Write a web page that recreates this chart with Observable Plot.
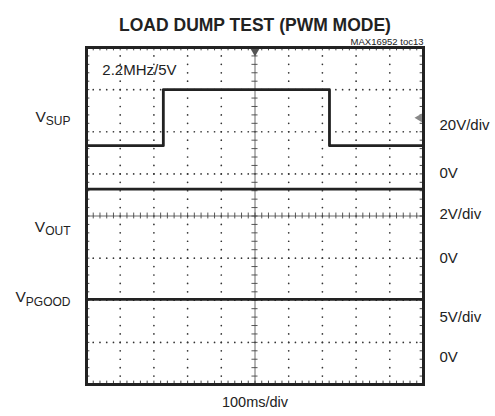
<!DOCTYPE html>
<html><head><meta charset="utf-8">
<script src="https://cdn.jsdelivr.net/npm/d3@7"></script>
<script src="https://cdn.jsdelivr.net/npm/@observablehq/plot@0.6"></script>
<style>
body{margin:0;background:#fff;}
svg{font-family:"Liberation Sans",Arial,sans-serif;}
</style></head>
<body><div id="chart"></div>
<script>
// time in ms (100 ms/div), vertical position in screen divisions (8 divs)
const vsupT = [0, 228, 228, 721, 721, 1000];
const vsupDiv = [5.67, 5.67, 7.0, 7.0, 5.67, 5.67];
const voutT = [0, 1000];
const voutDiv = [4.64, 4.64];
const vpgoodT = [0, 1000];
const vpgoodDiv = [2.02, 2.02];
const chanNames = ["SUP", "OUT", "PGOOD"];
const chanLabelDiv = [6.36, 3.74, 2.07];
const rightLabels = ["20V/div", "0V", "2V/div", "0V", "5V/div", "0V"];
const rightLabelDiv = [6.16, 5.02, 4.05, 3.0, 1.6, 0.65];
const title = "LOAD DUMP TEST (PWM MODE)";
const tocLabel = "MAX16952 toc13";
const modeLabel = "2.2MHz/5V";
const timeLabel = "100ms/div";
const triggerTime = 500;
const triggerLevelDiv = 6.33;

const xMinor = d3.range(0, 1000.001, 20);
const yMinor = d3.range(0, 8.0001, 0.2).map(v => +v.toFixed(2));
const xMajor = [100, 200, 300, 400, 600, 700, 800, 900];
const yMajor = [1, 2, 3, 5, 6, 7];
const gridDots = [];
for (const x of xMajor) for (const y of yMinor) gridDots.push({x, y});
for (const y of yMajor) for (const x of xMinor) gridDots.push({x, y});

const traces = [
  ...vsupT.map((t, i) => ({ch: "SUP", t, v: vsupDiv[i]})),
  ...voutT.map((t, i) => ({ch: "OUT", t, v: voutDiv[i]})),
  ...vpgoodT.map((t, i) => ({ch: "PGOOD", t, v: vpgoodDiv[i]}))
];
const chanRows = chanNames.map((c, i) => ({c, y: chanLabelDiv[i]}));
const rightRows = rightLabels.map((t, i) => ({t, y: rightLabelDiv[i]}));

const ink = "#222";
const plot = Plot.plot({
  width: 495, height: 416,
  marginLeft: 86, marginRight: 72, marginTop: 47, marginBottom: 32,
  x: {domain: [0, 1000], axis: null},
  y: {domain: [0, 8], axis: null},
  marks: [
    Plot.dot(gridDots, {x: "x", y: "y", r: 0.85, fill: "#333", stroke: null}),
    Plot.ruleX([500], {stroke: "#444", strokeWidth: 0.8}),
    Plot.ruleY([4], {stroke: "#444", strokeWidth: 0.8}),
    Plot.ruleX(xMinor, {x: d => d, y1: 3.93, y2: 4.07, stroke: "#444", strokeWidth: 0.9}),
    Plot.ruleY(yMinor, {y: d => d, x1: 491, x2: 509, stroke: "#444", strokeWidth: 0.9}),
    Plot.ruleY(yMinor, {y: d => d, x1: 0, x2: 10, stroke: "#333", strokeWidth: 0.9}),
    Plot.ruleY(yMinor, {y: d => d, x1: 990, x2: 1000, stroke: "#333", strokeWidth: 0.9}),
    Plot.ruleX(xMinor, {x: d => d, y1: 0, y2: 0.08, stroke: "#333", strokeWidth: 0.9}),
    Plot.ruleX(xMinor, {x: d => d, y1: 7.92, y2: 8, stroke: "#333", strokeWidth: 0.9}),
    Plot.line(traces, {x: "t", y: "v", z: "ch", stroke: ink, strokeWidth: 2.8}),
    Plot.dot([triggerTime], {x: d => d, y: 8, dy: 4, symbol: "triangle", rotate: 180, r: 3.2, fill: "#555", stroke: null}),
    Plot.dot([triggerLevelDiv], {x: 988, y: d => d, symbol: "triangle", rotate: -90, r: 3.2, fill: "#888", stroke: null}),
    Plot.frame({stroke: ink, strokeWidth: 3}),
    Plot.text([title], {frameAnchor: "top", dy: -28.5, fontSize: 17.5, fontWeight: "bold", fill: ink}),
    Plot.text([tocLabel], {frameAnchor: "top-right", textAnchor: "end", dy: -9.5, fontSize: 9.5, fill: ink}),
    Plot.text([modeLabel], {x: 47, y: 7.46, textAnchor: "start", fontSize: 15, fill: ink}),
    Plot.text(chanRows, {frameAnchor: "left", y: "y", text: d => "V" + d.c, textAnchor: "end", dx: -16, fontSize: 15.5, fill: ink}),
    Plot.text(rightRows, {frameAnchor: "right", y: "y", text: "t", textAnchor: "start", dx: 16, fontSize: 15, fill: ink}),
    Plot.text([timeLabel], {frameAnchor: "bottom", dy: 22, fontSize: 14.5, fill: ink})
  ]
});
// render channel subscripts
d3.select(plot).selectAll("text").each(function() {
  const s = this.textContent;
  for (const c of chanNames) {
    if (s === "V" + c) {
      const sel = d3.select(this);
      sel.text("V");
      sel.append("tspan").attr("font-size", 12).attr("dy", "0.28em").text(c);
    }
  }
});
document.getElementById("chart").appendChild(plot);
</script></body></html>
